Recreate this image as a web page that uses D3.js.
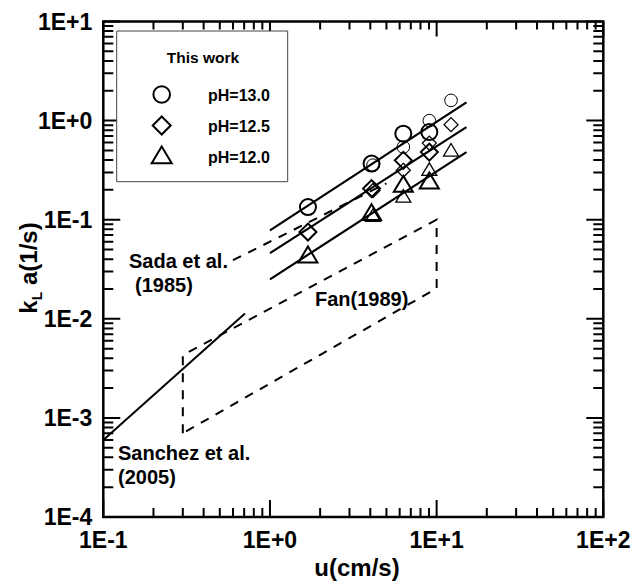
<!DOCTYPE html>
<html>
  <head>
    <script src="https://d3js.org/d3.v7.min.js"></script>
  </head>
  <body style="margin:0">
    <script>

// measured data, this work (large = main runs, small = thin markers)
const ph130 = [[1.69, 0.134], [4.07, 0.368], [6.31, 0.738], [9.04, 0.766]];
const ph125 = [[1.69, 0.075], [4.07, 0.206], [6.31, 0.397], [9.04, 0.481]];
const ph120 = [[1.69, 0.043], [4.07, 0.115], [6.31, 0.222], [9.04, 0.24]];
const ph130b = [[4.15, 0.355], [6.31, 0.541], [9.04, 1.0], [12.2, 1.6]];
const ph125b = [[4.15, 0.197], [6.31, 0.315], [9.04, 0.593], [12.2, 0.91]];
const ph120b = [[4.15, 0.108], [6.31, 0.169], [9.04, 0.315], [12.2, 0.493]];

// fitted lines
const fit130 = [[1.0, 0.078], [15.1, 1.53]];
const fit125 = [[1.0, 0.046], [15.1, 0.86]];
const fit120 = [[1.0, 0.025], [15.1, 0.48]];

// literature
const sada = [[0.6, 0.039], [5.0, 0.233]];
const sanchez = [[0.1, 0.0006], [0.708, 0.0113]];
const fan = [[0.3, 0.0007], [0.3, 0.0043], [10, 0.1], [10, 0.0203], [0.3, 0.0007]];

const xDomain = [0.1, 100];
const yDomain = [0.0001, 10];
const legendNames = ["pH=13.0", "pH=12.5", "pH=12.0"];

const W = 637, H = 585;
const pLeft = 103.3, pRight = 603.3, pTop = 21.5, pBottom = 517;
const FONT = "Liberation Sans, Arial, sans-serif";

const svg = d3.select("body").append("svg")
    .attr("width", W)
    .attr("height", H)
    .attr("font-family", FONT)
    .attr("font-weight", "bold");

const x = d3.scaleLog().domain(xDomain).range([pLeft, pRight]);
const y = d3.scaleLog().domain(yDomain).range([pBottom, pTop]);

const fmt = d => {
  const e = Math.round(Math.log10(d));
  return "1E" + (e >= 0 ? "+" : "-") + Math.abs(e);
};

const onDecade = d => {
  const l = Math.log10(d);
  return Math.abs(l - Math.round(l)) < 1e-6;
};
const xTicks = x.ticks();
const yTicks = y.ticks();
const xMajor = xTicks.filter(onDecade);
const yMajor = yTicks.filter(onDecade);

// frame
svg.append("path")
    .attr("d", `M${pLeft},${pTop}H${pRight}V${pBottom}H${pLeft}Z`)
    .attr("fill", "none").attr("stroke", "#000").attr("stroke-width", 2.5);

// ticks, inward on all four sides, drawn as thin filled bars
let tp = "";
const bar = (x0, y0, w, h) => {
  tp += `M${x0.toFixed(2)},${y0.toFixed(2)}h${w}v${h}h${-w}Z`;
};
xTicks.forEach(d => {
  const px = x(d), len = onDecade(d) ? 17 : 9;
  bar(px - 1, pBottom - len, 2, len);
  bar(px - 1, pTop, 2, onDecade(d) ? 15 : 8);
});
yTicks.forEach(d => {
  const py = y(d), len = onDecade(d) ? 17 : 10;
  bar(pLeft, py - 1, len, 2);
  bar(pRight - len, py - 1, len, 2);
});
svg.append("path").attr("d", tp).attr("fill", "#000").attr("stroke", "none");

// tick labels
svg.append("g").selectAll("text")
  .data(xMajor).join("text")
    .attr("x", d => x(d)).attr("y", pBottom + 31)
    .attr("text-anchor", "middle").attr("font-size", 23)
    .text(fmt);
svg.append("g").selectAll("text")
  .data(yMajor).join("text")
    .attr("x", pLeft - 11).attr("y", d => y(d) + 8)
    .attr("text-anchor", "end").attr("font-size", 23)
    .text(fmt);

// axis titles
svg.append("text")
    .attr("x", 357).attr("y", 576)
    .attr("text-anchor", "middle").attr("font-size", 24)
    .text("u(cm/s)");

const yt = svg.append("text")
    .attr("transform", "translate(37,268) rotate(-90)")
    .attr("text-anchor", "middle").attr("font-size", 24);
yt.append("tspan").text("k");
yt.append("tspan").attr("font-size", 14).attr("dy", 5).text("L");
yt.append("tspan").attr("dy", -5).text(" a(1/s)");

const line = d3.line().x(d => x(d[0])).y(d => y(d[1]));

// literature
svg.append("path").datum(fan).attr("d", line)
    .attr("fill", "none").attr("stroke", "#000").attr("stroke-width", 2)
    .attr("stroke-dasharray", "9,8");
svg.append("path").datum(sada).attr("d", line)
    .attr("fill", "none").attr("stroke", "#000").attr("stroke-width", 2)
    .attr("stroke-dasharray", "9,8");
svg.append("path").datum(sanchez).attr("d", line)
    .attr("fill", "none").attr("stroke", "#000").attr("stroke-width", 2);

// fits
[fit130, fit125, fit120].forEach(f => {
  svg.append("path").datum(f).attr("d", line)
      .attr("fill", "none").attr("stroke", "#000").attr("stroke-width", 2.2);
});

// marker shapes
const shapes = {
  circle: s => d3.symbol(d3.symbolCircle, Math.PI * s * s)(),
  diamond: s => `M0,${-s}L${s},0L0,${s}L${-s},0Z`,
  triangle: s => `M0,${-s}L${s},${s * 0.67}L${-s},${s * 0.67}Z`
};

function drawPts(data, shape, size, sw) {
  svg.append("g").selectAll("path")
    .data(data).join("path")
      .attr("transform", d => `translate(${x(d[0])},${y(d[1])})`)
      .attr("d", shapes[shape](size))
      .attr("fill", "none").attr("stroke", "#000").attr("stroke-width", sw);
}

drawPts(ph130b, "circle", 6.3, 1);
drawPts(ph125b, "diamond", 7, 1.3);
drawPts(ph120b, "triangle", 7.5, 1.3);
drawPts(ph130, "circle", 8, 2);
drawPts(ph125, "diamond", 8.5, 2);
drawPts(ph120, "triangle", 9.5, 2);

// labels
const labels = [
  ["Sada et al.", 129, 268],
  ["(1985)", 135, 292],
  ["Fan(1989)", 315, 306],
  ["Sanchez et al.", 118, 460],
  ["(2005)", 118, 484]
];
svg.append("g").selectAll("text")
  .data(labels).join("text")
    .attr("x", d => d[1]).attr("y", d => d[2])
    .attr("font-size", 20)
    .text(d => d[0]);

// legend
svg.append("path")
    .attr("d", "M116.7,31H287.7V181.7H116.7Z")
    .attr("fill", "#fff").attr("stroke", "#444").attr("stroke-width", 1);
svg.append("text")
    .attr("x", 203).attr("y", 63).attr("text-anchor", "middle")
    .attr("font-size", 15.5).text("This work");
const legShapes = [["circle", 8.3], ["diamond", 9], ["triangle", 10]];
legendNames.forEach((n, i) => {
  const cy = 94.5 + i * 31;
  svg.append("path")
      .attr("transform", `translate(161.7,${cy})`)
      .attr("d", shapes[legShapes[i][0]](legShapes[i][1]))
      .attr("fill", "none").attr("stroke", "#000").attr("stroke-width", 2);
  svg.append("text")
      .attr("x", 208).attr("y", cy + 6)
      .attr("font-size", 16).text(n);
});

    </script>
  </body>
</html>
